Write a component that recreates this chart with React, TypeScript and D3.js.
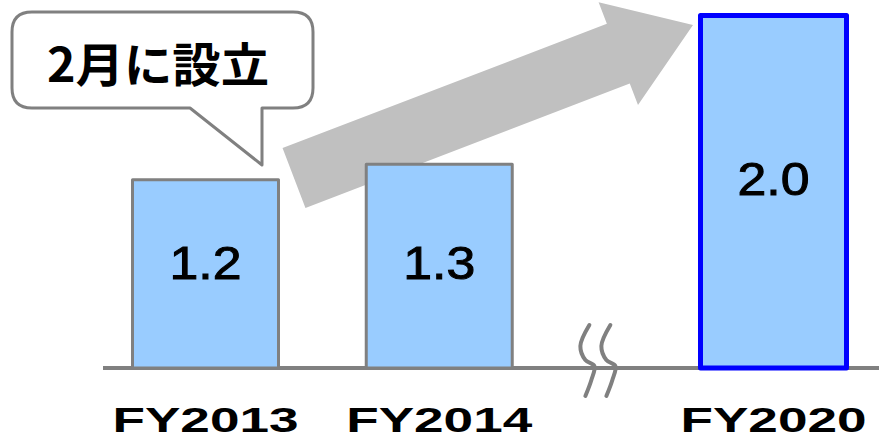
import React from "react";
import * as d3 from "d3";

const categories = ["FY2013", "FY2014", "FY2020"];
const values = [1.2, 1.3, 2.0];
const valueLabels = ["1.2", "1.3", "2.0"];
const highlighted = [false, false, true];
const afterBreak = [false, false, true];
const calloutText = "2月に設立";

const W = 879;
const H = 443;
const BASE = 368;
const BREAK_GAP = 0.43;
const LABEL_Y_MAIN = 279;
const LABEL_Y_BROKEN = 195;

export default function App() {
  const slot = (i: number) => i + (afterBreak[i] ? BREAK_GAP : 0);
  const x = d3.scaleLinear().domain([0, 2 + BREAK_GAP]).range([205.5, 773.5]);
  const barW = 146;
  const yMain = d3.scaleLinear().domain([0, 1.25]).range([BASE, 172]);
  const yBroken = d3.scaleLinear().domain([0, 2.0]).range([BASE, 15.5]);
  const yOf = (i: number) => (afterBreak[i] ? yBroken(values[i]) : yMain(values[i]));

  const firstBroken = afterBreak.indexOf(true);
  const bx = (x(slot(firstBroken - 1)) + barW / 2 + x(slot(firstBroken)) - barW / 2) / 2 - 9;
  const wave: [number, number][] = [
    [-8, -43],
    [-17, -22],
    [-12, -8],
    [-3, -2],
    [-6, 12],
    [-12, 28],
  ];
  const waveLine = d3
    .line<[number, number]>()
    .x((d) => d[0])
    .y((d) => d[1])
    .curve(d3.curveCatmullRom);

  const from: [number, number] = [294, 178];
  const to: [number, number] = [693, 25];
  const shaftHalf = 32;
  const headHalf = 55;
  const headLen = 80;
  const dx = to[0] - from[0];
  const dy = to[1] - from[1];
  const len = Math.hypot(dx, dy);
  const ux = dx / len;
  const uy = dy / len;
  const nx = -uy;
  const ny = ux;
  const hb: [number, number] = [to[0] - ux * headLen, to[1] - uy * headLen];
  const arrowPts: [number, number][] = [
    [from[0] + nx * shaftHalf, from[1] + ny * shaftHalf],
    [hb[0] + nx * shaftHalf, hb[1] + ny * shaftHalf],
    [hb[0] + nx * headHalf, hb[1] + ny * headHalf],
    to,
    [hb[0] - nx * headHalf, hb[1] - ny * headHalf],
    [hb[0] - nx * shaftHalf, hb[1] - ny * shaftHalf],
    [from[0] - nx * shaftHalf, from[1] - ny * shaftHalf],
  ];
  const arrowPath = "M" + arrowPts.map((p) => p.join(",")).join("L") + "Z";

  const bL = 12,
    bT = 12,
    bR = 313,
    bB = 108,
    r = 20;
  const tailL = 190,
    tailR = 262,
    tipX = 262,
    tipY = 165;
  const bubble = [
    `M${bL + r},${bT}`,
    `L${bR - r},${bT}`,
    `Q${bR},${bT} ${bR},${bT + r}`,
    `L${bR},${bB - r}`,
    `Q${bR},${bB} ${bR - r},${bB}`,
    `L${tailR},${bB}`,
    `L${tipX},${tipY}`,
    `L${tailL},${bB}`,
    `L${bL + r},${bB}`,
    `Q${bL},${bB} ${bL},${bB - r}`,
    `L${bL},${bT + r}`,
    `Q${bL},${bT} ${bL + r},${bT}`,
    "Z",
  ].join(" ");

  return (
    <svg
      width={W}
      height={H}
      style={{ position: "absolute", left: 0, top: 0, background: "#fff" }}
    >
      <path d={arrowPath} fill="#c0c0c0" />
      <path
        d={bubble}
        fill="#fff"
        stroke="#808080"
        strokeWidth={3}
        strokeLinejoin="round"
      />
      <text
        x={158}
        y={82}
        textAnchor="middle"
        fontFamily="'Noto Sans CJK JP', sans-serif"
        fontWeight={700}
        fontSize={47}
        textLength={222}
        lengthAdjust="spacingAndGlyphs"
        fill="#000"
      >
        {calloutText}
      </text>

      <line x1={103} x2={W} y1={BASE} y2={BASE} stroke="#808080" strokeWidth={4} />

      {categories.map((c, i) => {
        const cx = x(slot(i));
        const top = yOf(i);
        return (
          <g key={c}>
            <rect
              x={cx - barW / 2}
              y={top}
              width={barW}
              height={BASE - top}
              fill="#99ccff"
              stroke={highlighted[i] ? "#0000ff" : "#808080"}
              strokeWidth={highlighted[i] ? 5 : 3}
              strokeLinejoin="round"
            />
            <text
              x={cx}
              y={afterBreak[i] ? LABEL_Y_BROKEN : LABEL_Y_MAIN}
              textAnchor="middle"
              fontFamily="'Liberation Sans', Arial, sans-serif"
              fontSize={47}
              stroke="#000"
              strokeWidth={1}
              textLength={72}
              lengthAdjust="spacingAndGlyphs"
              fill="#000"
            >
              {valueLabels[i]}
            </text>
            <text
              x={cx}
              y={432}
              textAnchor="middle"
              fontFamily="'Liberation Sans', Arial, sans-serif"
              fontWeight={700}
              fontSize={35}
              textLength={186}
              lengthAdjust="spacingAndGlyphs"
              fill="#000"
            >
              {c}
            </text>
          </g>
        );
      })}

      <g transform={`translate(${bx},${BASE})`} fill="none" stroke="#808080" strokeWidth={4} strokeLinecap="round">
        <path d={waveLine(wave) || ""} />
        <path d={waveLine(wave.map((p) => [p[0] + 21, p[1]] as [number, number])) || ""} />
      </g>
    </svg>
  );
}
